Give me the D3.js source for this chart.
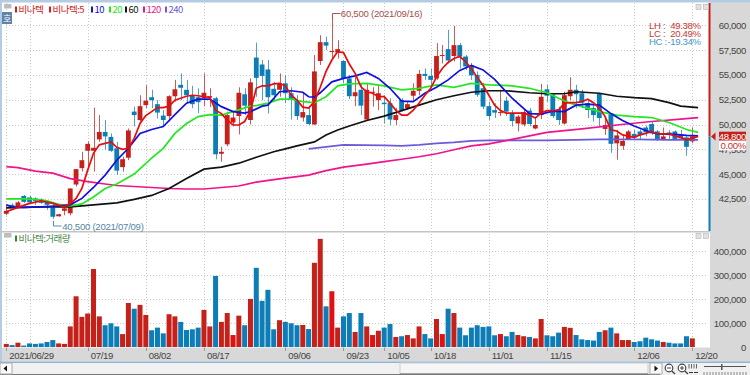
<!DOCTYPE html>
<html>
<head>
<meta charset="utf-8">
<script src="https://cdn.jsdelivr.net/npm/d3@7"></script>
<style>
html, body { margin: 0; padding: 0; background: #fff; overflow: hidden; }
svg { display: block; }
text { font-family: "Liberation Sans", sans-serif; font-size: 9.6px; letter-spacing: -0.35px; }
.kr { font-family: "Noto Sans CJK KR", sans-serif; font-size: 9.5px; letter-spacing: -0.5px; }
.grid { stroke: #c9c9c9; stroke-dasharray: 1 2; }
</style>
</head>
<body>
<div id="graf"></div>
<script>
const dates = ["2021/06/29","06/30",
  "07/01","07/02","07/05","07/06","07/07","07/08","07/09","07/12","07/13","07/14","07/15","07/16","07/19","07/20","07/21","07/22","07/23","07/26","07/27","07/28","07/29","07/30",
  "08/02","08/03","08/04","08/05","08/06","08/09","08/10","08/11","08/12","08/13","08/17","08/18","08/19","08/20","08/23","08/24","08/25","08/26","08/27","08/30","08/31",
  "09/01","09/02","09/03","09/06","09/07","09/08","09/09","09/10","09/13","09/14","09/15","09/16","09/17","09/23","09/24","09/27","09/28","09/29","09/30",
  "10/01","10/05","10/06","10/07","10/08","10/12","10/13","10/14","10/15","10/18","10/19","10/20","10/21","10/22","10/25","10/26","10/27","10/28","10/29",
  "11/01","11/02","11/03","11/04","11/05","11/08","11/09","11/10","11/11","11/12","11/15","11/16","11/17","11/18","11/19","11/22","11/23","11/24","11/25","11/26","11/29","11/30",
  "12/01","12/02","12/03","12/06","12/07","12/08","12/09","12/10","12/13","12/14","12/15","12/16","12/17","12/20"]

const opens = [41000,41900,41650,42800,42650,42550,42450,42200,41600,40750,41300,41050,43950,45600,47350,47350,48500,49250,48750,47600,45700,46650,51300,50450,51950,52750,52050,50900,50850,52850,54000,53500,52950,52750,52650,52700,52650,47050,48000,50200,50850,53050,50450,56750,56050,55550,53600,53500,54150,53150,52450,50700,50950,50000,56400,58300,57300,57250,56400,54650,52850,53500,50500,53200,52450,52200,52150,50450,52450,51650,52900,53400,55100,54900,54650,56950,57600,56900,58000,56850,55950,55000,53650,51850,51450,51200,52400,51150,50100,50000,51400,49600,50950,53550,53000,51550,50100,52850,53500,53150,52150,51650,53150,49550,51050,48100,47850,48500,49050,49300,49700,50050,49300,48450,49200,49300,48950,48700,48300]
const highs = [41900,42050,42300,42900,42800,42650,42550,42300,42050,41000,41900,43550,45500,47250,48300,51700,50950,50450,49100,48250,46750,49600,51800,52950,53950,53500,52450,51450,52950,54500,55150,54500,53900,53650,55150,53650,52800,47750,51300,51300,53750,53650,54650,58250,56500,56500,54300,55150,55000,53750,52950,53150,51800,57000,59000,58850,60500,58500,56500,55000,54800,54150,54150,53750,53950,52950,52650,51650,52650,52300,54150,55500,55650,55650,58200,58000,59550,59950,58200,57000,56200,55350,54200,52300,52150,53500,52800,51450,50950,51450,51650,50650,54100,54000,53150,51800,53300,54750,54000,53500,52450,51950,53200,50800,51150,49450,48950,49450,49450,49500,49900,50300,49450,49700,49450,49400,49450,48950,49700]
const lows = [40850,41550,41550,42100,42050,41900,42000,41400,40500,40700,40850,40850,43750,45250,45750,45250,48250,47450,47250,44900,45250,46400,49800,50300,51650,51650,50600,49800,50300,52300,52450,52150,51650,51150,51850,51750,46500,46250,47800,49800,49000,50950,50000,52800,52450,51100,52300,52800,52150,50500,50450,50300,49950,49950,56000,57500,56650,56650,54150,52550,51850,50950,50450,51800,51450,50100,49950,49950,51300,51450,52300,52950,54500,54000,54500,56150,56150,56350,55650,55500,54500,52800,51550,50450,50650,50850,50850,49800,49300,49800,49800,49500,50550,52300,50650,49950,50000,52450,51650,51650,50650,50300,49800,48950,47150,46450,47450,48450,48500,48450,48800,48950,48350,48400,48500,48450,48450,46850,48100]
const closes = [41300,41650,42150,42200,42150,42300,42100,41900,40700,40950,41550,43550,45500,46400,48050,47650,49250,48800,47350,45350,46500,49400,50950,51850,52400,52450,51200,50450,52850,53550,53700,52950,52050,52250,53200,52850,47000,47250,50950,50700,53200,51900,54250,54700,54900,52750,52950,54150,53150,52550,50850,51250,50050,55350,58300,57950,57400,57600,54650,52850,53250,51900,53500,53300,53150,52050,50500,50950,51450,52050,53400,55100,54900,54500,56900,57000,56450,58000,56850,55850,54950,53000,51800,50850,51200,51250,51300,50350,50800,51250,50050,49950,52800,52900,50850,50450,52950,53500,53050,52200,51450,50950,50650,49950,48050,48900,48350,49300,48700,48950,49200,49100,48450,48800,49000,48500,48600,47750,48800]
const volumes = [13000,8000,18000,6000,15000,13000,15000,21000,29000,15000,13000,86000,212000,126000,140000,326000,128000,91000,99000,86000,54000,184000,160000,176000,134000,70000,81000,57000,137000,128000,105000,71000,74000,81000,155000,86000,297000,105000,142000,50000,131000,91000,201000,331000,193000,239000,74000,112000,105000,99000,91000,92000,75000,352000,452000,170000,233000,81000,128000,142000,63000,142000,86000,50000,68000,81000,96000,42000,45000,50000,36000,86000,54000,36000,117000,54000,160000,142000,81000,49000,81000,91000,84000,86000,49000,54000,45000,63000,50000,45000,42000,36000,117000,49000,45000,60000,84000,80000,50000,32000,29000,27000,63000,70000,81000,57000,29000,29000,21000,24000,39000,32000,27000,21000,18000,15000,15000,45000,36000]
const brightSessions = [39, 56, 63, 75, 85]

const ma5At = [0,2,4,6,8,10,11,12,13,14,15,16,17,18,19,20,21,22,23,24,25,26,27,28,29,30,31,32,33,34,35,36,37,38,39,40,41,42,43,44,45,46,47,48,49,50,51,52,53,54,55,56,57,58,59,60,61,62,63,64,65,66,67,68,69,70,71,72,73,74,75,76,77,78,79,80,81,82,83,84,85,86,87,89,90,91,92,93,94,95,96,97,98,99,100,101,102,103,104,105,106,108,109,110,111,112,113,114,115,116,117,118,119]
const ma5 = [41200,41650,42050,42300,42050,41700,42000,42550,43550,45400,47100,47950,48100,48250,47700,47500,47600,48600,50100,50900,51300,51700,51700,51850,52450,52650,52850,52950,52900,52800,52750,51450,51100,50450,49950,49950,50300,51400,53650,53900,53900,54100,54150,53900,52950,52450,51750,51650,52300,53750,55350,56500,57350,57250,56100,55150,53800,53300,53150,52800,52800,52150,51450,50950,50950,51450,52150,52950,53650,54800,55650,56250,56650,56850,56350,55650,54750,53950,52950,51950,51400,51150,51150,51150,50950,50650,51150,51400,51400,51450,52150,52200,52200,52300,52550,52200,51650,50800,49450,49350,48950,48700,48950,49100,49300,49050,49050,49050,48850,48700,48450,48600,48800]

const ma10At = [0,1,3,6,9,11,13,15,17,19,21,23,25,27,29,31,33,35,37,39,41,42,44,45,47,49,51,52,53,54,56,58,60,62,64,66,68,70,72,74,76,78,80,82,84,87,90,92,94,96,98,100,102,104,106,108,110,112,115,117,119]
const ma10 = [41900,41700,41650,41700,41800,41900,42550,43650,44900,46400,47600,49100,49500,49800,51000,52150,52550,52550,51800,51300,51150,51300,51850,51950,53300,53400,53250,52800,52750,53200,54300,54650,54900,55250,54650,53650,52350,52300,53150,53750,54500,55450,55950,55500,54550,52650,51100,51050,51350,51300,51950,52050,51950,51100,50400,49850,49400,49050,49000,48900,48850]

const ma20At = [0,3,5,7,9,11,13,15,17,19,22,25,27,29,31,33,35,37,39,42,43,45,47,49,51,53,55,57,59,62,65,68,71,74,77,80,83,87,90,93,95,97,99,102,105,108,111,114,117,119]
const ma20 = [42500,42500,42450,42300,41950,41800,42000,42700,43550,44000,45000,46600,47600,49100,50100,50800,51000,50950,51300,51850,51900,52150,52550,52550,52300,52200,52800,53900,54100,54150,53900,53500,53650,54000,53750,54150,54000,53900,53650,53200,52650,52150,51800,51300,50950,50800,50700,50200,49500,49200]

const ma60At = [0,6,11,15,19,22,25,28,31,34,37,40,43,46,48,50,53,55,57,59,62,65,68,71,74,77,80,83,86,90,93,96,98,102,105,108,111,114,116,119]
const ma60 = [41600,41700,41700,41900,42100,42450,42850,43550,44550,45500,45700,46100,46700,47250,47550,47850,48250,48950,49450,49850,50400,50850,51400,51950,52500,52900,53250,53400,53400,53200,53100,53100,53300,53150,52850,52700,52600,52200,51850,51700]

const ma120At = [0,2,5,8,11,14,17,19,22,25,28,31,34,37,40,43,46,50,52,55,58,62,65,68,71,74,77,80,83,87,93,99,105,111,116,119]
const ma120 = [45750,45650,45300,45100,44550,44250,44000,43850,43750,43650,43550,43500,43500,43650,43800,44200,44450,44750,44900,45350,45700,46000,46250,46500,46750,47050,47450,47850,48050,48500,49200,49550,49950,50300,50550,50700]

const ma240At = [52,55,58,65,68,71,74,77,80,83,93,98,102,108,114,119]
const ma240 = [47550,47750,47950,47900,47850,47950,48100,48200,48350,48400,48400,48450,48500,48500,48450,48450]

const priceTicks = [42500,45000,47500,50000,52500,55000,57500,60000]
const volumeTicks = [0,100000,200000,300000,400000]
const gridDates = ["2021/06/29","07/05","07/19","08/02","08/17","09/06","09/23","10/05","10/18","11/01","11/15","12/06","12/20"]
const labelDates = ["2021/06/29","07/19","08/02","08/17","09/06","09/23","10/05","10/18","11/01","11/15","12/06","12/20"]

const legendNames = ["비나텍","비나텍:5","10","20","60","120","240"]
const statNames = ["LH :","LC :","HC :"]
const statValues = ["49.38%","20.49%","-19.34%"]
const lastPrice = 48800
const highPrice = 60500
const lowPrice = 40500

const rojo = "#c5201a"
const azul = "#0c7db6"
const colores = ["#d02020","#d02020","#1010e0","#22e822","#111111","#f0148c","#6a5cd8"]

const svg = d3.select("#graf").append("svg").attr("width", 750).attr("height", 375)

const x = d3.scaleLinear().domain([0, 118]).range([6.3, 692.3])
const y = d3.scaleLinear().domain([42500, 60000]).range([198.9, 25.3])
const yVol = d3.scaleLinear().domain([0, 400000]).range([347, 251.3])
const px = (d) => Math.round(d) + 0.5

// marco
svg.append("rect").attr("width", 750).attr("height", 375).attr("fill", "#fff")
svg.append("rect").attr("x", 710).attr("width", 40).attr("height", 362).attr("fill", "#d8d8d8")
svg.append("rect").attr("y", 347.5).attr("width", 750).attr("height", 14).attr("fill", "#d8d8d8")
svg.append("rect").attr("width", 750).attr("height", 2.5).attr("fill", "#b4cbe2")
svg.append("rect").attr("width", 2).attr("height", 362).attr("fill", "#b4cbe2")
svg.append("rect").attr("y", 231).attr("width", 710).attr("height", 1.5).attr("fill", "#c4c4c4")

// grilla
const gridG = svg.append("g")
gridG.selectAll(".gv").data(gridDates).join("line").attr("class", "grid")
  .attr("x1", (d) => px(x(dates.indexOf(d)))).attr("x2", (d) => px(x(dates.indexOf(d))))
  .attr("y1", 3).attr("y2", 347)
gridG.selectAll(".gh").data(priceTicks).join("line").attr("class", "grid")
  .attr("x1", 6).attr("x2", 708).attr("y1", (d) => px(y(d))).attr("y2", (d) => px(y(d)))
gridG.selectAll(".gw").data(volumeTicks.slice(1)).join("line").attr("class", "grid")
  .attr("x1", 6).attr("x2", 708).attr("y1", (d) => px(yVol(d))).attr("y2", (d) => px(yVol(d)))

// velas
const candle = svg.append("g").selectAll("g").data(dates).join("g")
const isUp = (i) => closes[i] >= opens[i]
candle.append("line")
  .attr("x1", (d, i) => px(x(i))).attr("x2", (d, i) => px(x(i)))
  .attr("y1", (d, i) => y(highs[i])).attr("y2", (d, i) => y(lows[i]))
  .attr("stroke", (d, i) => isUp(i) ? "#cf5a55" : "#4f9fcc")
candle.append("rect")
  .attr("x", (d, i) => x(i) - 2.4).attr("width", 4.8)
  .attr("y", (d, i) => y(Math.max(opens[i], closes[i])))
  .attr("height", (d, i) => Math.max(1, Math.abs(y(opens[i]) - y(closes[i]))))
  .attr("fill", (d, i) => brightSessions.includes(i) ? "#e21010" : isUp(i) ? rojo : azul)

// medias moviles
const line = d3.line().x((d) => x(d[0])).y((d) => y(d[1]))
const medias = [
  [ma240At, ma240, colores[6]],
  [ma120At, ma120, colores[5]],
  [ma60At, ma60, colores[4]],
  [ma20At, ma20, colores[3]],
  [ma10At, ma10, colores[2]],
  [ma5At, ma5, "#e80c0c"]
]
medias.forEach(([at, vals, color]) => {
  svg.append("path").datum(d3.zip(at, vals)).attr("d", line)
    .attr("fill", "none").attr("stroke", color).attr("stroke-width", 1.7)
})

// volumen
svg.append("g").selectAll("rect").data(volumes).join("rect")
  .attr("x", (d, i) => x(i) - 2.5).attr("width", 5)
  .attr("y", (d) => yVol(d)).attr("height", (d) => yVol(0) - yVol(d))
  .attr("fill", (d, i) => brightSessions.includes(i) ? "#e21010" : isUp(i) ? rojo : azul)

// maximo y minimo
const hi = dates.indexOf("09/16")
const lo = dates.indexOf("07/09")
svg.append("path").attr("fill", "none").attr("stroke", "#b05050")
  .attr("d", d3.line()([[px(x(hi)), y(highPrice)], [px(x(hi)), 13.5], [px(x(hi)) + 8, 13.5]]))
svg.append("text").attr("x", x(hi) + 9).attr("y", 17).attr("fill", "#a5504c")
  .style("letter-spacing", "-0.27px").text("60,500 (2021/09/16)")
svg.append("path").attr("fill", "none").attr("stroke", "#4f8fb5")
  .attr("d", d3.line()([[px(x(lo)), y(lowPrice) + 2], [px(x(lo)), 226], [px(x(lo)) + 8, 226]]))
svg.append("text").attr("x", x(lo) + 9.5).attr("y", 230).attr("fill", "#54869f")
  .style("letter-spacing", "-0.27px").text("40,500 (2021/07/09)")

// ejes a la derecha
const axisPrice = svg.append("g").attr("transform", "translate(746,0)")
  .call(d3.axisLeft(y).tickValues(priceTicks).tickSize(0).tickPadding(0).tickFormat(d3.format(",")))
const axisVol = svg.append("g").attr("transform", "translate(746,0)")
  .call(d3.axisLeft(yVol).tickValues(volumeTicks).tickSize(0).tickPadding(0).tickFormat(d3.format(",")))
for (const a of [axisPrice, axisVol]) {
  a.select(".domain").remove()
  a.attr("font-family", null).attr("font-size", null)
  a.selectAll("text").attr("fill", "#444")
}

// indicador precio actual
svg.append("rect").attr("x", 708.5).attr("y", 3).attr("width", 2).attr("height", y(lastPrice) - 3).attr("fill", rojo)
svg.append("rect").attr("x", 708.5).attr("y", y(lastPrice)).attr("width", 2).attr("height", 231 - y(lastPrice)).attr("fill", azul)
svg.append("path").attr("fill", rojo).attr("d", d3.line()([[711, y(lastPrice)], [715.5, y(lastPrice) - 4], [715.5, y(lastPrice) + 4]]))
svg.append("rect").attr("x", 719).attr("y", y(lastPrice) - 4.7).attr("width", 27).attr("height", 9).attr("fill", rojo)
svg.append("text").attr("x", 746).attr("y", y(lastPrice) + 3.5).attr("text-anchor", "end").attr("fill", "#fff")
  .text(d3.format(",")(lastPrice))
svg.append("rect").attr("x", 719).attr("y", y(lastPrice) + 4.3).attr("width", 27).attr("height", 9.5).attr("fill", "#fff")
svg.append("text").attr("x", 746).attr("y", y(lastPrice) + 12.5).attr("text-anchor", "end").attr("fill", "#c83030")
  .text("0.00%")

// estadisticas
const statColor = (i) => i < 2 ? "#c83838" : "#3f97c6"
svg.append("g").selectAll("text").data(statNames).join("text")
  .attr("x", 649).attr("y", (d, i) => 28.5 + i * 8.4).attr("fill", (d, i) => statColor(i)).text((d) => d)
svg.append("g").selectAll("text").data(statValues).join("text")
  .attr("x", 700.7).attr("y", (d, i) => 28.5 + i * 8.4).attr("text-anchor", "end")
  .attr("fill", (d, i) => statColor(i)).text((d) => d)

// leyenda
const legendX = [15, 49, 91, 109, 125, 143, 165]
const legend = svg.append("g").selectAll("g").data(legendNames).join("g")
legend.append("rect").attr("x", (d, i) => legendX[i]).attr("y", 6.5).attr("width", 2).attr("height", 6).attr("fill", (d, i) => colores[i])
legend.append("text").attr("class", "kr").attr("x", (d, i) => legendX[i] + 3.5).attr("y", 13)
  .attr("fill", (d, i) => colores[i]).text((d) => d)
svg.append("rect").attr("x", 15).attr("y", 235.5).attr("width", 2).attr("height", 6).attr("fill", "#2f8a2f")
svg.append("text").attr("class", "kr").attr("x", 18.5).attr("y", 242).attr("fill", "#4a8a4a").text("비나텍:거래량")

// botones pequeños
for (const yb of [4, 233]) {
  svg.append("rect").attr("x", 4).attr("y", yb).attr("width", 7.5).attr("height", 4.5).attr("fill", "#bdbdbd")
  for (const xb of [696, 703.5]) {
    svg.append("rect").attr("x", xb).attr("y", yb + 0.5).attr("width", 5).attr("height", 5)
      .attr("fill", "#e2e2e2").attr("stroke", "#b5b5b5").attr("stroke-width", 0.6)
  }
}
svg.append("rect").attr("x", 2).attr("y", 12).attr("width", 10).attr("height", 12).attr("fill", "#5f83ab")
svg.append("text").attr("class", "kr").attr("x", 7).attr("y", 22).attr("text-anchor", "middle").attr("fill", "#fff").style("font-size", "9px").text("호")

// eje de fechas
const dateAxis = svg.append("g")
dateAxis.selectAll("line").data(labelDates).join("line")
  .attr("x1", (d) => px(x(dates.indexOf(d)))).attr("x2", (d) => px(x(dates.indexOf(d))))
  .attr("y1", 347.5).attr("y2", 351).attr("stroke", "#999")
dateAxis.selectAll("text").data(labelDates).join("text")
  .attr("x", (d) => x(dates.indexOf(d)) + 3).attr("y", 359).attr("fill", "#444")
  .text((d) => d)

// barra inferior
svg.append("rect").attr("y", 361.5).attr("width", 750).attr("height", 1.5).attr("fill", "#8fb4d8")
svg.append("rect").attr("y", 363).attr("width", 750).attr("height", 12).attr("fill", "#f1f1f1")
svg.append("rect").attr("x", 400).attr("y", 363).attr("width", 248).attr("height", 11).attr("fill", "#f6f6f6").attr("stroke", "#cfcfcf")
svg.append("rect").attr("x", 400).attr("y", 373.5).attr("width", 248).attr("height", 1.5).attr("fill", "#666")
svg.append("rect").attr("y", 374).attr("width", 660).attr("height", 1).attr("fill", "#777")
for (const xb of [0, 650]) {
  svg.append("rect").attr("x", xb).attr("y", 363).attr("width", 12).attr("height", 11).attr("fill", "#fbfbfb").attr("stroke", "#aaa")
}
svg.append("path").attr("d", "M3.5,368.5L7,365.5V371.5Z").attr("fill", "#111")
svg.append("path").attr("d", "M658,368.5L654.5,365.5V371.5Z").attr("fill", "#111")
for (const [xi, signo] of [[669, "-"], [682, "+"]]) {
  svg.append("circle").attr("cx", xi).attr("cy", 368).attr("r", 3.8).attr("fill", "#fff").attr("stroke", "#444").attr("stroke-width", 1.2)
  svg.append("line").attr("x1", xi + 2.8).attr("x2", xi + 6).attr("y1", 371).attr("y2", 374).attr("stroke", "#444").attr("stroke-width", 1.4)
  svg.append("line").attr("x1", xi - 2).attr("x2", xi + 2).attr("y1", 368).attr("y2", 368).attr("stroke", "#444")
  if (signo == "+") svg.append("line").attr("x1", xi).attr("x2", xi).attr("y1", 366).attr("y2", 370).attr("stroke", "#444")
}
for (const xb of [689, 691.5, 694, 696.5]) {
  svg.append("line").attr("x1", xb).attr("x2", xb).attr("y1", 364).attr("y2", 368.5).attr("stroke", "#666")
}
svg.append("path").attr("d", "M689,372.5H693M694,372.5H698").attr("stroke", "#333").attr("fill", "none")
svg.append("line").attr("x1", 704).attr("x2", 746).attr("y1", 366.5).attr("y2", 366.5).attr("stroke", "#555")
svg.append("rect").attr("x", 721).attr("y", 364).attr("width", 1.5).attr("height", 6).attr("fill", "#555")
d3.range(704, 747, 3).forEach((t) => {
  svg.append("line").attr("x1", t).attr("x2", t).attr("y1", 372).attr("y2", 375).attr("stroke", "#888")
})
</script>
</body>
</html>
